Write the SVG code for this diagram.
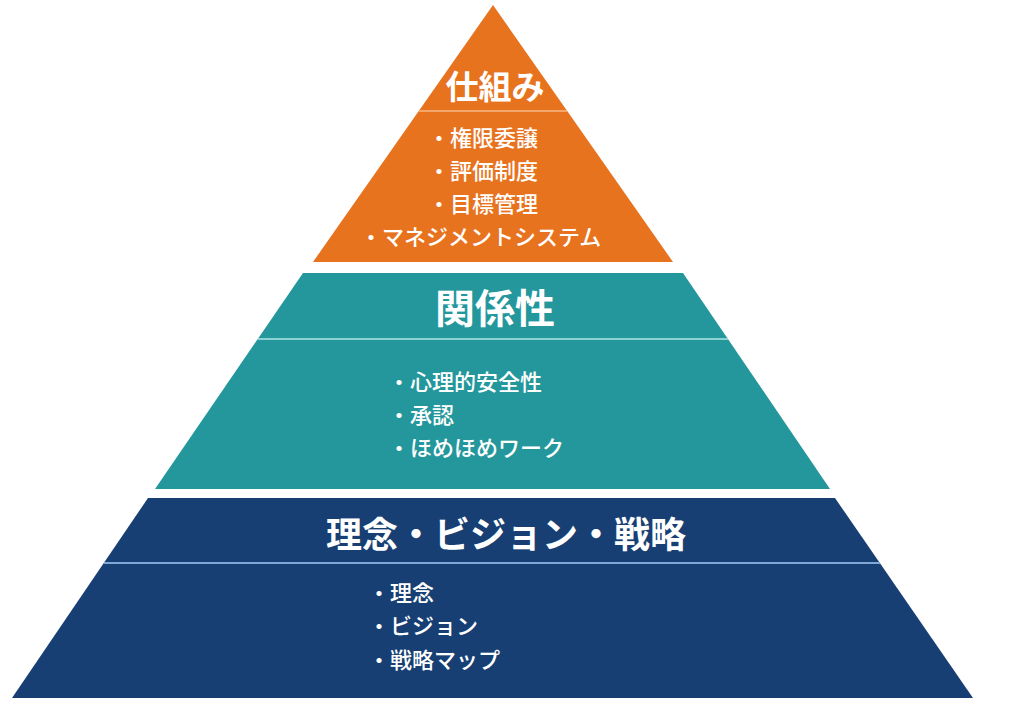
<svg xmlns="http://www.w3.org/2000/svg" width="1024" height="716" viewBox="0 0 1024 716">
<style>
.t{font-family:"Noto Sans CJK JP","Noto Sans",sans-serif;fill:#fff}
.h{font-weight:700}
.b{font-size:22px;font-weight:500}
.sep{stroke-width:2}
</style>
<rect width="1024" height="716" fill="#fff"/>
<g id="top">
<polygon points="493,5 673,262 313,262" fill="#e8731f"/>
<line x1="419" y1="111" x2="567" y2="111" stroke="#f2a86a" class="sep"/>
<text class="t h" x="495" y="99" font-size="33" text-anchor="middle">仕組み</text>
<text class="t b" x="428" y="146">・権限委譲</text>
<text class="t b" x="428" y="179">・評価制度</text>
<text class="t b" x="428" y="212">・目標管理</text>
<text class="t b" x="360" y="245">・マネジメントシステム</text>
</g>
<g id="middle">
<polygon points="303,273 683,273 830,489 155,489" fill="#23979c"/>
<line x1="258" y1="339" x2="728" y2="339" stroke="#8ed3d3" class="sep"/>
<text class="t h" x="495" y="323" font-size="40" text-anchor="middle">関係性</text>
<text class="t b" x="388" y="390">・心理的安全性</text>
<text class="t b" x="388" y="423">・承認</text>
<text class="t b" x="388" y="456">・ほめほめワーク</text>
</g>
<g id="bottom">
<polygon points="148,498 835,498 973,698 12,698" fill="#173f73"/>
<line x1="104" y1="563" x2="880" y2="563" stroke="#7fa8d6" class="sep"/>
<text class="t h" x="506" y="548" font-size="36" text-anchor="middle">理念・ビジョン・戦略</text>
<text class="t b" x="368" y="601">・理念</text>
<text class="t b" x="368" y="634">・ビジョン</text>
<text class="t b" x="368" y="668">・戦略マップ</text>
</g>
</svg>
